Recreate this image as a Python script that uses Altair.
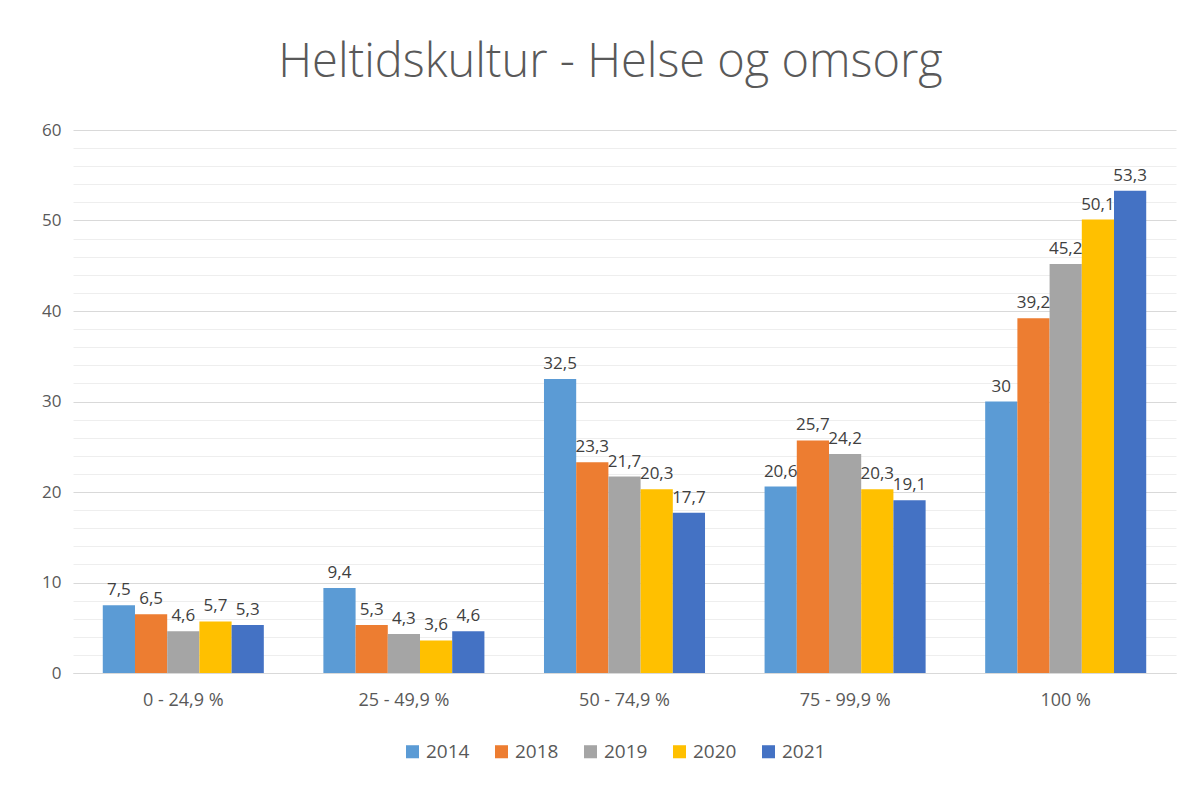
import altair as alt
import pandas as pd

categories = ["0 - 24,9 %", "25 - 49,9 %", "50 - 74,9 %", "75 - 99,9 %", "100 %"]
years = ["2014", "2018", "2019", "2020", "2021"]
colors = ["#5B9BD5", "#ED7D31", "#A5A5A5", "#FFC000", "#4472C4"]
v2014 = [7.5, 9.4, 32.5, 20.6, 30]
v2018 = [6.5, 5.3, 23.3, 25.7, 39.2]
v2019 = [4.6, 4.3, 21.7, 24.2, 45.2]
v2020 = [5.7, 3.6, 20.3, 20.3, 50.1]
v2021 = [5.3, 4.6, 17.7, 19.1, 53.3]

series = [v2014, v2018, v2019, v2020, v2021]
rows = []
for y, vals in zip(years, series):
    for c, v in zip(categories, vals):
        rows.append({"kategori": c, "år": y, "verdi": v,
                     "etikett": (f"{v:g}").replace(".", ",")})
df = pd.DataFrame(rows)

font = "Open Sans"

base = alt.Chart(df).encode(
    x=alt.X("kategori:N", sort=categories, title=None,
            scale=alt.Scale(paddingInner=0.27, paddingOuter=0.135),
            axis=alt.Axis(labelAngle=0, labelFontSize=18, labelColor="#595959",
                          labelFont=font, ticks=False, domainColor="#d9d9d9",
                          labelPadding=18, grid=False)),
    xOffset=alt.XOffset("år:N", sort=years),
    y=alt.Y("verdi:Q", title=None,
            scale=alt.Scale(domain=[0, 60], nice=False, zero=True),
            axis=alt.Axis(values=list(range(0, 61, 2)),
                          labelExpr="datum.value % 10 === 0 ? datum.label : ''",
                          labelFontSize=17, labelColor="#595959", labelFont=font,
                          ticks=False, domain=False, labelPadding=12,
                          labelOverlap=False,
                          gridColor={"condition": {"test": "datum.value % 10 === 0", "value": "#d9d9d9"},
                                     "value": "#eeeeee"})),
)

bars = base.mark_bar().encode(
    color=alt.Color("år:N", sort=years,
                    scale=alt.Scale(domain=years, range=colors),
                    legend=alt.Legend(title=None, orient="none", direction="horizontal",
                                      legendX=330, legendY=612, symbolType="square",
                                      symbolSize=170, symbolStrokeWidth=0,
                                      labelFontSize=19, labelColor="#595959",
                                      labelFont=font, columnPadding=22)),
)

labels = base.mark_text(dy=-15, fontSize=17, color="#404040", font=font).encode(
    text="etikett:N",
)

chart = alt.layer(bars, labels).properties(
    width=1103, height=543,
    title=alt.TitleParams("Heltidskultur - Helse og omsorg", fontSize=47,
                          font=font, fontWeight=300, color="#595959", offset=34,
                          dx=-14),
    autosize=alt.AutoSizeParams(type="none"),
    padding={"left": 65, "top": 122, "right": 13, "bottom": 106},
).configure_view(stroke=None)

chart.save("out.html", embed_options={"renderer": "svg", "actions": False})
